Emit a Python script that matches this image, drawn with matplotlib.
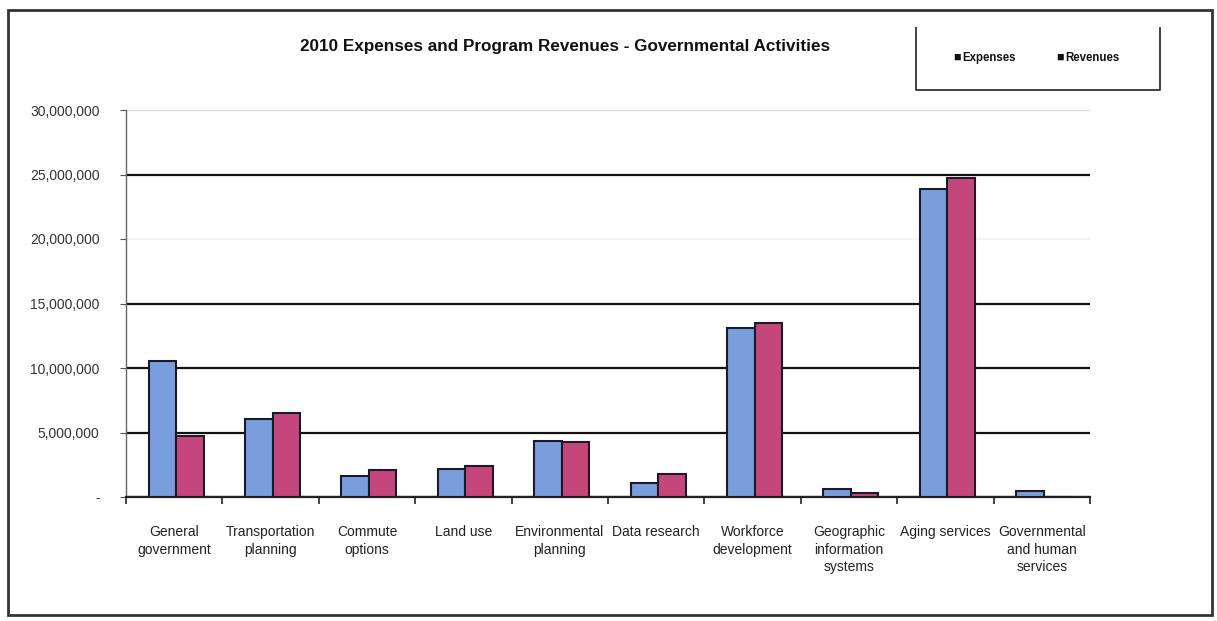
import matplotlib
matplotlib.use("Agg")
import matplotlib.pyplot as plt
import numpy as np
from matplotlib.patches import Rectangle
from matplotlib.lines import Line2D
from matplotlib.ticker import FuncFormatter

categories = ["General\ngovernment", "Transportation\nplanning", "Commute\noptions",
              "Land use", "Environmental\nplanning", "Data research",
              "Workforce\ndevelopment", "Geographic\ninformation\nsystems",
              "Aging services", "Governmental\nand human\nservices"]
expenses = [10.55e6, 6.05e6, 1.65e6, 2.15e6, 4.35e6, 1.1e6, 13.1e6, 0.6e6, 23.9e6, 0.5e6]
revenues = [4.75e6, 6.5e6, 2.1e6, 2.4e6, 4.25e6, 1.8e6, 13.5e6, 0.3e6, 24.7e6, 0.0]
series_names = ["Expenses", "Revenues"]
colors = ["#7A9EDC", "#C4467B"]
title = "2010 Expenses and Program Revenues - Governmental Activities"

plt.rcParams['font.family'] = ['Liberation Sans', 'DejaVu Sans']

fig = plt.figure(figsize=(12.17, 6.21), dpi=100)
ax = fig.add_axes([126/1217, 1-497/621, (1090-126)/1217, (497-110)/621])

x = np.arange(len(categories))
w = 0.285
ax.bar(x - w/2 + 0.02, expenses, w, color=colors[0], edgecolor="#1a1a2a", linewidth=1.5, zorder=3)
ax.bar(x + w/2 + 0.02, revenues, w, color=colors[1], edgecolor="#1a1a2a", linewidth=1.5, zorder=3)

ax.set_xlim(-0.5, len(categories) - 0.5)
ax.set_ylim(0, 30e6)
ax.set_yticks(np.arange(0, 30e6 + 1, 5e6))
ax.yaxis.set_major_formatter(FuncFormatter(lambda v, p: "-" if v == 0 else f"{int(v):,}"))
ax.grid(axis="y", color="#111111", linewidth=1.6, zorder=1)
ax.set_axisbelow(True)
# scanned look: the 30M line is faint and the 20M line has faded away
grid_colors = ["#111111", "#111111", "#111111", "#111111", "#f4f4f4", "#111111", "#d8d8d8"]
for gl, c in zip(ax.get_ygridlines(), grid_colors):
    gl.set_color(c)
for s in ["top", "right"]:
    ax.spines[s].set_visible(False)
ax.spines["left"].set_color("#666666")
ax.spines["left"].set_linewidth(1.0)
ax.spines["bottom"].set_color("#222222")
ax.spines["bottom"].set_linewidth(1.6)

ax.set_xticks(np.arange(-0.5, len(categories), 1.0), minor=False)
ax.set_xticklabels([])
ax.tick_params(axis="x", length=5, direction="out", color="#222222", width=1.2)
ax.set_xticks(x, minor=True)
ax.set_xticklabels(categories, minor=True, fontsize=10, color="#222222", linespacing=1.35)
ax.tick_params(axis="x", which="minor", length=0, pad=20)
ax.tick_params(axis="y", length=4, labelsize=10, labelcolor="#333333", color="#555555", pad=15)

fig.text(565/1217, 1-47/621, title, ha="center", va="center", fontsize=12.3, fontweight="bold", color="#111111")

# outer frame
fig.add_artist(Rectangle((8/1217, 6/621), 1204/1217, 605/621, transform=fig.transFigure,
                         fill=False, edgecolor="#333333", linewidth=2.0))
# legend box (top edge faded in the scan)
lx0, lx1, ly0, ly1 = 916/1217, 1160/1217, 1-90/621, 1-28/621
fig.add_artist(Line2D([lx0, lx0, lx1, lx1], [ly1, ly0, ly0, ly1], transform=fig.transFigure,
                      color="#333333", linewidth=1.3))
leg_items = [(957, series_names[0]), (1060, series_names[1])]
for xp, name in leg_items:
    fig.text(xp/1217, 1-58/621, "\u25A0", ha="center", va="center", fontsize=9, color="#111111")
    fig.text((xp+5)/1217, 1-58/621, name, ha="left", va="center", fontsize=8.3, fontweight="bold", color="#111111")

fig.savefig("out.png", dpi=100)
